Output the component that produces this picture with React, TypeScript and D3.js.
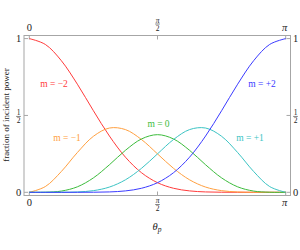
import React, { useRef, useEffect } from 'react';
import * as d3 from 'd3';

// sample angles (degrees), step pi/16
const THETA_DEG = [0, 11.25, 22.5, 33.75, 45, 56.25, 67.5, 78.75, 90, 101.25, 112.5, 123.75, 135, 146.25, 157.5, 168.75, 180];

const M_NEG2 = [1, 0.9621, 0.8562, 0.7032, 0.5308, 0.366, 0.2284, 0.1275, 0.0625, 0.0262, 0.0091, 0.0024, 0.0005, 0.0001, 0, 0, 0];
const M_NEG1 = [0, 0.0373, 0.1355, 0.2588, 0.3643, 0.4182, 0.408, 0.3435, 0.25, 0.1558, 0.0813, 0.0341, 0.0107, 0.0022, 0.0002, 0, 0];
const M_ZERO = [0, 0.0005, 0.008, 0.0357, 0.0938, 0.1792, 0.2732, 0.347, 0.375, 0.347, 0.2732, 0.1792, 0.0938, 0.0357, 0.008, 0.0005, 0];
const M_POS1 = [0, 0, 0.0002, 0.0022, 0.0107, 0.0341, 0.0813, 0.1558, 0.25, 0.3435, 0.408, 0.4182, 0.3643, 0.2588, 0.1355, 0.0373, 0];
const M_POS2 = [0, 0, 0, 0.0001, 0.0005, 0.0024, 0.0091, 0.0262, 0.0625, 0.1275, 0.2284, 0.366, 0.5308, 0.7032, 0.8562, 0.9621, 1];

const SERIES = [
    { name: 'm = \u22122', values: M_NEG2, color: '#ff3b3b', lx: 54, ly: 87 },
    { name: 'm = \u22121', values: M_NEG1, color: '#ffa040', lx: 67, ly: 141 },
    { name: 'm = 0', values: M_ZERO, color: '#3cbc3c', lx: 158.5, ly: 127 },
    { name: 'm = +1', values: M_POS1, color: '#3cc4c4', lx: 250, ly: 141 },
    { name: 'm = +2', values: M_POS2, color: '#3b3bff', lx: 262, ly: 87 },
];

const X_TICKS = [0, Math.PI / 2, Math.PI];
const Y_TICKS = [0, 0.5, 1];

const FONT = '"Liberation Serif", "DejaVu Serif", serif';
const AXIS = '#a6a6a6';

export default function App() {
    const svgRef = useRef<SVGSVGElement | null>(null);

    useEffect(() => {
        const svg = d3.select(svgRef.current);
        svg.selectAll('*').remove();

        const frame = { left: 24, right: 290.5, top: 35.5, bottom: 195.5 };
        const x = d3.scaleLinear().domain([0, Math.PI]).range([29.3, 285.7]);
        const y = d3.scaleLinear().domain([0, 1]).range([192.3, 38.6]);

        // frame
        svg.append('rect')
            .attr('x', frame.left).attr('y', frame.top)
            .attr('width', frame.right - frame.left).attr('height', frame.bottom - frame.top)
            .attr('fill', 'none').attr('stroke', AXIS).attr('stroke-width', 1);

        const g = svg.append('g').attr('font-family', FONT).attr('fill', '#222');

        // fraction label helper
        const frac = (cx: number, cy: number, num: string) => {
            const fg = g.append('g').attr('transform', `translate(${cx},${cy})`);
            fg.append('text').attr('text-anchor', 'middle').attr('y', -1.5)
                .attr('font-size', 7.5).attr('font-style', num === 'π' ? 'italic' : 'normal').text(num);
            fg.append('line').attr('x1', -2.3).attr('x2', 2.3).attr('y1', 0).attr('y2', 0)
                .attr('stroke', '#333').attr('stroke-width', 0.6);
            fg.append('text').attr('text-anchor', 'middle').attr('y', 6.5)
                .attr('font-size', 7.5).text('2');
        };

        // x ticks (top + bottom)
        X_TICKS.forEach((t, i) => {
            const px = x(t);
            g.append('line').attr('x1', px).attr('x2', px).attr('y1', frame.bottom).attr('y2', frame.bottom - 4)
                .attr('stroke', AXIS);
            g.append('line').attr('x1', px).attr('x2', px).attr('y1', frame.top).attr('y2', frame.top + 4)
                .attr('stroke', AXIS);
            if (i === 1) {
                frac(px, 204.5, 'π');
                frac(px, 24, 'π');
            } else {
                const lbl = i === 0 ? '0' : 'π';
                g.append('text').attr('x', px - (i === 2 ? 1 : 0)).attr('y', 205.5).attr('text-anchor', 'middle')
                    .attr('font-size', 10.5).attr('font-style', i === 2 ? 'italic' : 'normal').text(lbl);
                g.append('text').attr('x', px - (i === 2 ? 1 : 0)).attr('y', 30.5).attr('text-anchor', 'middle')
                    .attr('font-size', 10.5).attr('font-style', i === 2 ? 'italic' : 'normal').text(lbl);
            }
        });

        // y ticks (left + right)
        Y_TICKS.forEach((t) => {
            const py = y(t);
            g.append('line').attr('x1', frame.left).attr('x2', frame.left + 4).attr('y1', py).attr('y2', py)
                .attr('stroke', AXIS);
            g.append('line').attr('x1', frame.right).attr('x2', frame.right - 4).attr('y1', py).attr('y2', py)
                .attr('stroke', AXIS);
            if (t === 0.5) {
                frac(18.5, py + 1, '1');
                frac(295.5, py + 1, '1');
            } else {
                const lbl = t === 0 ? '0' : '1';
                g.append('text').attr('x', 18.5).attr('y', py + 3.5).attr('text-anchor', 'middle')
                    .attr('font-size', 10.5).text(lbl);
                g.append('text').attr('x', 295.5).attr('y', py + 3.5).attr('text-anchor', 'middle')
                    .attr('font-size', 10.5).text(lbl);
            }
        });

        // axis titles
        g.append('text')
            .attr('transform', `translate(8.5,115) rotate(-90)`)
            .attr('text-anchor', 'middle').attr('font-size', 9)
            .text('fraction of  incident power');

        const xt = g.append('text').attr('x', 157).attr('y', 229.5).attr('text-anchor', 'middle')
            .attr('font-size', 10.5).attr('font-style', 'italic');
        xt.append('tspan').text('θ');
        xt.append('tspan').attr('font-size', 7.5).attr('dy', 2).text('p');

        // curves
        const line = d3.line<number>()
            .x((_, i) => x((THETA_DEG[i] * Math.PI) / 180))
            .y((d) => y(d))
            .curve(d3.curveCatmullRom.alpha(0.5));

        SERIES.forEach((s) => {
            svg.append('path')
                .datum(s.values)
                .attr('d', line)
                .attr('fill', 'none')
                .attr('stroke', s.color)
                .attr('stroke-width', 1);
            svg.append('text')
                .attr('x', s.lx).attr('y', s.ly)
                .attr('text-anchor', 'middle')
                .attr('font-family', FONT).attr('font-size', 9.5)
                .attr('fill', s.color)
                .text(s.name);
        });
    }, []);

    return (
        <svg
            ref={svgRef}
            width={300}
            height={250}
            style={{ position: 'absolute', left: 0, top: 0, background: '#fff' }}
        />
    );
}
